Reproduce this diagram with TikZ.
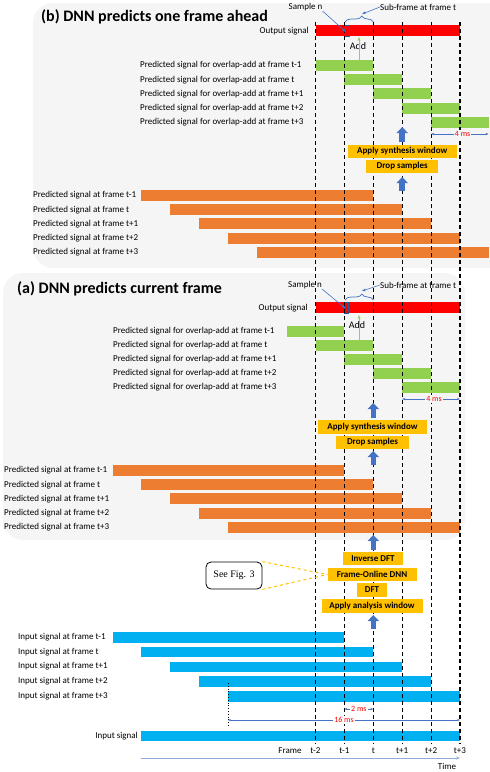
\documentclass[tikz,border=0pt]{standalone}
\usepackage{fontspec}
\setmainfont{Carlito}
\newfontfamily\figfont{Liberation Serif}
\usetikzlibrary{arrows.meta,decorations.pathreplacing}
\definecolor{panelgray}{HTML}{F5F5F5}
\definecolor{outred}{HTML}{FF0000}
\definecolor{olagreen}{HTML}{92D050}
\definecolor{predorange}{HTML}{ED7D31}
\definecolor{inblue}{HTML}{00B0F0}
\definecolor{boxyellow}{HTML}{FFC000}
\definecolor{arrowblue}{HTML}{4472C4}
\definecolor{axisblue}{HTML}{8FAADC}
\definecolor{markblue}{HTML}{2F5597}
\tikzset{
  lbl/.style={font=\fontsize{9}{10}\selectfont, inner sep=0pt},
  lblW/.style={lbl, anchor=west},
  lblE/.style={lbl, anchor=east},
  paneltitle/.style={font=\bfseries\fontsize{16}{18}\selectfont, inner sep=0pt, anchor=west},
  stagebox/.style={fill=boxyellow, font=\bfseries\fontsize{9}{10}\selectfont, inner sep=0pt, minimum height=13.5pt},
  flowarrow/.style={arrowblue, line width=5.5pt, -{Triangle[width=11pt,length=6pt]}},
  framegrid/.style={dash pattern=on 4pt off 3pt, line width=1.1pt},
  msarrow/.style={arrowblue, line width=0.6pt, {Stealth[length=3pt]}-{Stealth[length=3pt]}},
  mslbl/.style={text=red, font=\fontsize{8}{9}\selectfont, inner sep=1pt},
  ptr/.style={arrowblue, line width=0.6pt, -{Stealth[length=4pt]}},
  addarrow/.style={olagreen, line width=1pt, -{Stealth[length=4pt]}},
  subbrace/.style={arrowblue, line width=0.7pt, decorate, decoration={brace, amplitude=6pt, aspect=0.6}},
}
\begin{document}
\begin{tikzpicture}[x=1pt,y=-1pt]
\useasboundingbox (0,0) rectangle (490,772);
% panels
\fill[panelgray, rounded corners=20pt] (33,3) rectangle (510,268);
\fill[panelgray, rounded corners=20pt] (3,273) rectangle (465,540);

%%% (b) one frame ahead
\node[paneltitle] (btitle) at (41,17) {(b) DNN predicts one frame ahead};
\fill[outred] (315.5,25) rectangle (460,36);
\draw[markblue, line width=0.7pt] (345,25) rectangle (349,36);
\node[lblE] (bout) at (309,31) {Output signal};
\foreach \i/\f in {0/t-1,1/t,2/t+1,3/t+2,4/t+3}{
  \fill[olagreen] (315.5+28.9*\i,60+14.2*\i) rectangle +(57.8,11);
  \node[lblW] (bola\i) at (140,65.5+14.2*\i) {Predicted signal for overlap-add at frame \f};
  \fill[predorange] (141+28.9*\i,190+14.2*\i) rectangle +(232.3,11);
  \node[lblW] (bpred\i) at (33,195.5+14.2*\i) {Predicted signal at frame \f};
}

%%% (a) current frame
\node[paneltitle] (atitle) at (17,289) {(a) DNN predicts current frame};
\fill[outred] (315.5,302) rectangle (460,313);
\draw[markblue, line width=0.7pt] (344.5,302) rectangle (348,313);
\node[lblE] (aout) at (308,308) {Output signal};
\foreach \i/\f in {0/t-1,1/t,2/t+1,3/t+2,4/t+3}{
  \fill[olagreen] (286.6+28.9*\i,326+14*\i) rectangle +(57.8,11);
  \node[lblW] (aola\i) at (113,331.5+14*\i) {Predicted signal for overlap-add at frame \f};
  \fill[predorange] (112.5+28.9*\i,465+14.2*\i) rectangle +(231.9,11);
  \node[lblW] (apred\i) at (4,470.5+14.2*\i) {Predicted signal at frame \f};
}

%%% input side
\foreach \i/\f in {0/t-1,1/t,2/t+1,3/t+2,4/t+3}{
  \fill[inblue] (112.5+28.9*\i,632+14.8*\i) rectangle +(231.9,10.5);
  \node[lblW] (inp\i) at (18,637+14.8*\i) {Input signal at frame \f};
}
\fill[inblue] (141,731) rectangle (460,741);
\node[lblE] (insig) at (138,736) {Input signal};

% labels at the top of both panels
\node[lbl] (bsamp) at (305.5,7) {Sample n};
\node[lblW] (bsub) at (380,7) {Sub-frame at frame t};
\node[lbl] (asamp) at (305,285) {Sample n};
\node[lblW] (asub) at (380,285) {Sub-frame at frame t};

% frame grid
\foreach \i in {0,...,5}{
  \coordinate (gtop\i) at (315.5+28.9*\i,22);
  \coordinate (gbot\i) at (315.5+28.9*\i,744);
  \draw[framegrid] (gtop\i) -- (gbot\i);
}

% sample n and sub-frame pointers
\coordinate (bmark) at (346,32);
\coordinate (btip) at (362,14);
\draw[ptr] (bsamp.south east) -- (bmark);
\draw[subbrace] (345,22) -- (373.3,22);
\draw[ptr] (bsub.west) -- (btip);
\coordinate (amark) at (345,308);
\coordinate (atip) at (362,291);
\draw[ptr] (asamp.south east) -- (amark);
\draw[subbrace] (345,300) -- (373.3,300);
\draw[ptr] (asub.west) -- (atip);

% overlap-add
\node[font=\fontsize{10}{11}\selectfont, inner sep=0pt] (badd) at (358,46) {Add};
\coordinate (badd1) at (359,60);
\coordinate (badd2) at (359,37);
\draw[addarrow] (badd1) -- (badd2);
\node[font=\fontsize{10}{11}\selectfont, inner sep=0pt] (aadd) at (357,325) {Add};
\coordinate (aadd1) at (359,340);
\coordinate (aadd2) at (359,315);
\draw[addarrow] (aadd1) -- (aadd2);

% processing chain (b)
\node[stagebox, minimum width=109pt] (bsyn) at (402.2,151.5) {Apply synthesis window};
\node[stagebox, minimum width=72pt] (bdrop) at (402.2,166.5) {Drop samples};
\coordinate (bup1) at (402.2,191);
\coordinate (bup2) at (402.2,177);
\draw[flowarrow] (bup1) -- (bup2);
\coordinate (bup3) at (402.2,142);
\coordinate (bup4) at (402.2,127);
\draw[flowarrow] (bup3) -- (bup4);
\coordinate (bms1) at (431.1,134);
\coordinate (bms2) at (488.5,134);
\draw[msarrow] (bms1) -- node[mslbl, fill=panelgray, pos=0.55] (bmslbl) {4 ms} (bms2);

% processing chain (a)
\node[stagebox, minimum width=109pt] (asyn) at (372.5,427) {Apply synthesis window};
\node[stagebox, minimum width=73pt] (adrop) at (372.5,442.5) {Drop samples};
\node[stagebox, minimum width=60pt] (idft) at (373,558.5) {Inverse DFT};
\node[stagebox, minimum width=89pt] (dnn) at (372,574.5) {Frame-Online DNN};
\node[stagebox, minimum width=30pt] (dft) at (372,590) {DFT};
\node[stagebox, minimum width=101pt] (anwin) at (372,606) {Apply analysis window};
\coordinate (aup1) at (373.3,629);
\coordinate (aup2) at (373.3,615);
\draw[flowarrow] (aup1) -- (aup2);
\coordinate (aup3) at (373.3,550);
\coordinate (aup4) at (373.3,535);
\draw[flowarrow] (aup3) -- (aup4);
\coordinate (aup5) at (373.3,465);
\coordinate (aup6) at (373.3,451);
\draw[flowarrow] (aup5) -- (aup6);
\coordinate (aup7) at (373.3,418);
\coordinate (aup8) at (373.3,403);
\draw[flowarrow] (aup7) -- (aup8);
\coordinate (ams1) at (402.2,399);
\coordinate (ams2) at (460,399);
\draw[msarrow] (ams1) -- node[mslbl, fill=panelgray, pos=0.55] (amslbl) {4 ms} (ams2);

% see fig. 3
\node[draw, rounded corners=5pt, line width=0.8pt, minimum width=56pt, minimum height=27pt,
  font=\figfont\fontsize{10}{11}\selectfont] (seefig) at (234,575.5) {See Fig. 3};
\draw[boxyellow, dashed, line width=1pt] (seefig.north east) -- (dnn.west);
\draw[boxyellow, dashed, line width=1pt] (seefig.south east) -- (dnn.west);

% durations
\coordinate (dot1) at (228,683);
\coordinate (dot2) at (228,727);
\draw[dotted, line width=0.8pt] (dot1) -- (dot2);
\coordinate (ms2a) at (344.4,709);
\coordinate (ms2b) at (373.3,709);
\draw[msarrow] (ms2a) -- node[mslbl, fill=white] (ms2lbl) {2 ms} (ms2b);
\coordinate (ms16a) at (228,720);
\coordinate (ms16b) at (460,720);
\draw[msarrow] (ms16a) -- node[mslbl, fill=white] (ms16lbl) {16 ms} (ms16b);

% frame index and time axis
\node[lbl] (frm) at (290,751) {Frame};
\foreach \i/\f in {0/t-2,1/t-1,2/t,3/t+1,4/t+2,5/t+3}
  \node[lbl] (fl\i) at (315.5+28.9*\i,751) {\f};
\coordinate (tax1) at (141,758);
\coordinate (tax2) at (460,758);
\draw[axisblue, line width=0.8pt, -{Stealth[length=4pt]}] (tax1) -- (tax2);
\node[lbl] (timelbl) at (447,766) {Time};
\end{tikzpicture}
\end{document}
